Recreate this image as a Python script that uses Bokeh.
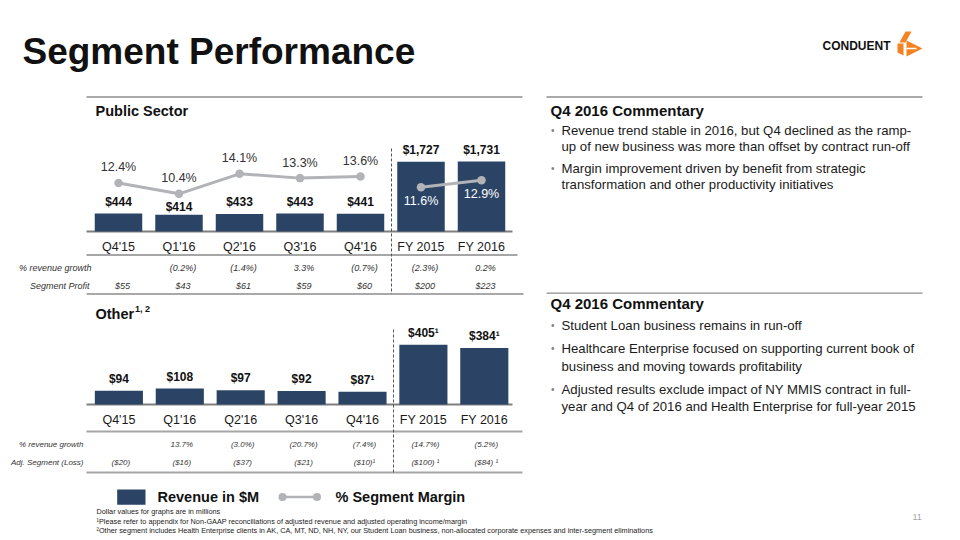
from bokeh.plotting import figure
from bokeh.models import Range1d, ColumnDataSource
from bokeh.core.properties import value
from bokeh.embed import file_html
from bokeh.resources import INLINE

# ---------------- data ----------------
categories = ["Q4'15", "Q1'16", "Q2'16", "Q3'16", "Q4'16", "FY 2015", "FY 2016"]

ps_revenue = [444, 414, 433, 443, 441, 1727, 1731]
ps_margin = [12.4, 10.4, 14.1, 13.3, 13.6, 11.6, 12.9]
ps_rev_growth = ["", "(0.2%)", "(1.4%)", "3.3%", "(0.7%)", "(2.3%)", "0.2%"]
ps_profit = ["$55", "$43", "$61", "$59", "$60", "$200", "$223"]

oth_revenue = [94, 108, 97, 92, 87, 405, 384]
oth_rev_note = ["", "", "", "", "\u00b9", "\u00b9", "\u00b9"]
oth_rev_growth = ["", "13.7%", "(3.0%)", "(20.7%)", "(7.4%)", "(14.7%)", "(5.2%)"]
oth_adj_loss = ["($20)", "($16)", "($37)", "($21)", "($10)\u00b9", "($100) \u00b9", "($84) \u00b9"]

commentary_ps = [
    ["Revenue trend stable in 2016, but Q4 declined as the ramp-",
     "up of new business was more than offset by contract run-off"],
    ["Margin improvement driven by benefit from strategic",
     "transformation and other productivity initiatives"],
]
commentary_oth = [
    ["Student Loan business remains in run-off"],
    ["Healthcare Enterprise focused on supporting current book of",
     "business and moving towards profitability"],
    ["Adjusted results exclude impact of NY MMIS contract in full-",
     "year and Q4 of 2016 and Health Enterprise for full-year 2015"],
]
footnotes = [
    "Dollar values for graphs are in millions",
    "\u00b9Please refer to appendix for Non-GAAP reconciliations of adjusted revenue and adjusted operating income/margin",
    "\u00b2Other segment includes Health Enterprise clients in AK, CA, MT, ND, NH, NY, our Student Loan business, non-allocated corporate expenses and inter-segment eliminations",
]

# ---------------- style ----------------
FONT = value("Liberation Sans")
NAVY = "#2b4466"
MGRAY = "#b1b3b7"
RULE = "#8c8c8c"
TXT = "#262626"
ORANGE = "#f58220"

W, H = 960, 540
FX0, FX1 = 0, W
FY0, FY1 = 0, H


def xr(d0, p0, d1, p1):
    k = (d1 - d0) / (p1 - p0)
    return Range1d(d0 + (FX0 - p0) * k, d0 + (FX1 - p0) * k)


def yr(d0, p0, d1, p1):
    k = (d1 - d0) / (p1 - p0)
    return Range1d(d0 + (FY1 - p0) * k, d0 + (FY0 - p0) * k)


p = figure(width=W, height=H, output_backend="svg", toolbar_location=None,
           x_range=Range1d(FX0, FX1), y_range=Range1d(FY1, FY0),
           x_axis_type=None, y_axis_type=None, min_border=0,
           background_fill_color="white", border_fill_color="white")
p.outline_line_color = None
p.xgrid.visible = False
p.ygrid.visible = False

p.extra_x_ranges = {"ps_x": xr(0, 118, 6, 481), "oth_x": xr(0, 118.4, 6, 483.8)}
p.extra_y_ranges = {"ps_y": yr(0, 231, 1731, 161),
                    "ps_m": yr(10.4, 193.3, 14.1, 173.3),
                    "oth_y": yr(0, 404, 405, 344.3)}

idx = list(range(len(categories)))


def txt(x, y, t, size, color=TXT, style="normal", align="left", baseline="middle", **kw):
    p.text(x=x, y=y, text=t, text_font=FONT, text_font_size=f"{size}px",
           text_font_style=style, text_color=color, text_align=align,
           text_baseline=baseline, **kw)


def hline(x0, x1, y, color=RULE, w=1.5, dash="solid"):
    p.segment(x0=[x0], y0=[y], x1=[x1], y1=[y], line_color=color, line_width=w, line_dash=dash)


# ---------------- title & logo ----------------
txt([22], [51], ["Segment Performance"], 37, color="#111111", style="bold")
txt([822], [45], ["CONDUENT"], 12, color="#111111", style="bold")
logo_xs = [[905, 911, 905, 899], [897, 903, 903, 897], [906, 922, 906]]
logo_ys = [[31, 31, 42, 42], [43, 43, 55, 52], [40, 48, 56]]
p.patches(xs=logo_xs, ys=logo_ys, fill_color=ORANGE, line_color=None)
p.segment(x0=[906], y0=[48], x1=[916], y1=[48], line_color="white", line_width=1.5)
txt([912], [516], ["11"], 9, color="#a6a6a6")

# ---------------- rules ----------------
hline(86, 522, 96.5, w=1.3)
hline(546, 922, 96.5, w=1.3)
hline(86, 512, 231, color="#7f7f7f", w=2)
hline(86, 517, 254.5, color="#a6a6a6", w=2)
hline(86, 523, 293.5, w=1.5)
hline(546, 922, 292.7, w=1.3)
hline(86, 512, 404, color="#7f7f7f", w=2)
hline(86, 522, 431, color="#a6a6a6", w=2)
hline(86, 522, 472, color="#a6a6a6", w=2)
p.segment(x0=[391], y0=[148], x1=[391], y1=[293.5], line_color="#555555", line_width=1, line_dash="3 2")
p.segment(x0=[393], y0=[329], x1=[393], y1=[472], line_color="#555555", line_width=1, line_dash="3 2")

# ---------------- Public Sector ----------------
txt([95], [110], ["Public Sector"], 14.5, color="#111111", style="bold")

ps_src = ColumnDataSource(dict(
    i=idx, rev=ps_revenue, m=ps_margin, cat=categories,
    lab=[f"${v:,}" for v in ps_revenue],
    lab_dy=[-12, -7.5, -12, -12, -12, -12, -12],
    g=ps_rev_growth, prof=ps_profit))

p.vbar(x="i", top="rev", bottom=0, width=0.785, source=ps_src, fill_color=NAVY,
       line_color=None, x_range_name="ps_x", y_range_name="ps_y")
p.text(x="i", y="rev", text="lab", y_offset="lab_dy", source=ps_src, x_range_name="ps_x",
       y_range_name="ps_y", text_font=FONT, text_font_size="12px", text_font_style="bold",
       text_color="#111111", text_align="center", text_baseline="middle")

q = slice(0, 5)
f = slice(5, 7)
p.line(x=idx[q], y=ps_margin[q], line_color=MGRAY, line_width=3,
       x_range_name="ps_x", y_range_name="ps_m")
p.line(x=idx[f], y=ps_margin[f], line_color=MGRAY, line_width=3,
       x_range_name="ps_x", y_range_name="ps_m")
p.scatter(x=idx, y=ps_margin, size=8.5, marker="circle", fill_color=MGRAY, line_color=None,
          x_range_name="ps_x", y_range_name="ps_m")
p.text(x=idx[q], y=ps_margin[q], text=[f"{v:.1f}%" for v in ps_margin[q]], y_offset=-15.5,
       x_range_name="ps_x", y_range_name="ps_m", text_font=FONT, text_font_size="12.5px",
       text_color="#333333", text_align="center", text_baseline="middle")
p.text(x=idx[f], y=ps_margin[f], text=[f"{v:.1f}%" for v in ps_margin[f]], y_offset=13.5,
       x_range_name="ps_x", y_range_name="ps_m", text_font=FONT, text_font_size="12.5px",
       text_color="white", text_align="center", text_baseline="middle")

p.text(x="i", y=246, text="cat", source=ps_src, x_range_name="ps_x", text_font=FONT,
       text_font_size="12.5px", text_color="#1a1a1a", text_align="center", text_baseline="middle")
p.text(x="i", y=267, text="g", x_offset=4, source=ps_src, x_range_name="ps_x", text_font=FONT,
       text_font_size="9px", text_font_style="italic", text_color="#333333",
       text_align="center", text_baseline="middle")
p.text(x="i", y=285, text="prof", x_offset=4, source=ps_src, x_range_name="ps_x", text_font=FONT,
       text_font_size="9px", text_font_style="italic", text_color="#333333",
       text_align="center", text_baseline="middle")
txt([91, 89], [267, 285], ["% revenue growth", "Segment Profit"], 9, color="#333333",
    style="italic", align="right")

# ---------------- Other ----------------
txt([95], [313], ["Other"], 14.5, color="#111111", style="bold")
txt([134.5], [308], ["1, 2"], 9, color="#111111", style="bold")

oth_src = ColumnDataSource(dict(
    i=idx, rev=oth_revenue, cat=categories,
    lab=[f"${v:,}{n}" for v, n in zip(oth_revenue, oth_rev_note)],
    g=oth_rev_growth, loss=oth_adj_loss))
p.vbar(x="i", top="rev", bottom=0, width=0.79, source=oth_src, fill_color=NAVY,
       line_color=None, x_range_name="oth_x", y_range_name="oth_y")
p.text(x="i", y="rev", text="lab", y_offset=-12, source=oth_src, x_range_name="oth_x",
       y_range_name="oth_y", text_font=FONT, text_font_size="12px", text_font_style="bold",
       text_color="#111111", text_align="center", text_baseline="middle")
p.text(x="i", y=419, text="cat", source=oth_src, x_range_name="oth_x", text_font=FONT,
       text_font_size="12.5px", text_color="#1a1a1a", text_align="center", text_baseline="middle")
p.text(x="i", y=444, text="g", x_offset=2, source=oth_src, x_range_name="oth_x", text_font=FONT,
       text_font_size="8px", text_font_style="italic", text_color="#333333",
       text_align="center", text_baseline="middle")
p.text(x="i", y=462, text="loss", x_offset=2, source=oth_src, x_range_name="oth_x", text_font=FONT,
       text_font_size="8px", text_font_style="italic", text_color="#333333",
       text_align="center", text_baseline="middle")
txt([83, 83], [444, 462], ["% revenue growth", "Adj. Segment (Loss)"], 8, color="#333333",
    style="italic", align="right")

# ---------------- commentary ----------------
def commentary(y_title, bullets, y_first, gap_line=16.3, gap_bullet=21):
    txt([550], [y_title], ["Q4 2016 Commentary"], 15, color="#111111", style="bold")
    y = y_first
    for b in bullets:
        txt([550.5], [y], ["\u2022"], 10, color="#7f7f7f")
        for k, line in enumerate(b):
            txt([561], [y + k * gap_line], [line], 13.2, color="#1a1a1a")
        y += (len(b) - 1) * gap_line + gap_bullet


commentary(110, commentary_ps, 130, gap_line=16.3, gap_bullet=21.3)
commentary(303, commentary_oth, 325.3, gap_line=17.5, gap_bullet=23)

# ---------------- legend ----------------
p.quad(left=[116.7], right=[145], top=[489], bottom=[504.3], fill_color=NAVY, line_color=None)
txt([157], [496.7], ["Revenue in $M"], 14.5, color="#111111", style="bold")
p.segment(x0=[282], y0=[496.5], x1=[316.5], y1=[496.5], line_color=MGRAY, line_width=2.5)
p.scatter(x=[282, 316.5], y=[496.5, 496.5], size=8, fill_color=MGRAY, line_color=None)
txt([335], [496.7], ["% Segment Margin"], 14.5, color="#111111", style="bold")

# ---------------- footnotes ----------------
txt([96, 96, 96], [511, 520.5, 530], footnotes, 7.3, color="#222222")

open("out.html", "w").write(file_html(p, INLINE))
